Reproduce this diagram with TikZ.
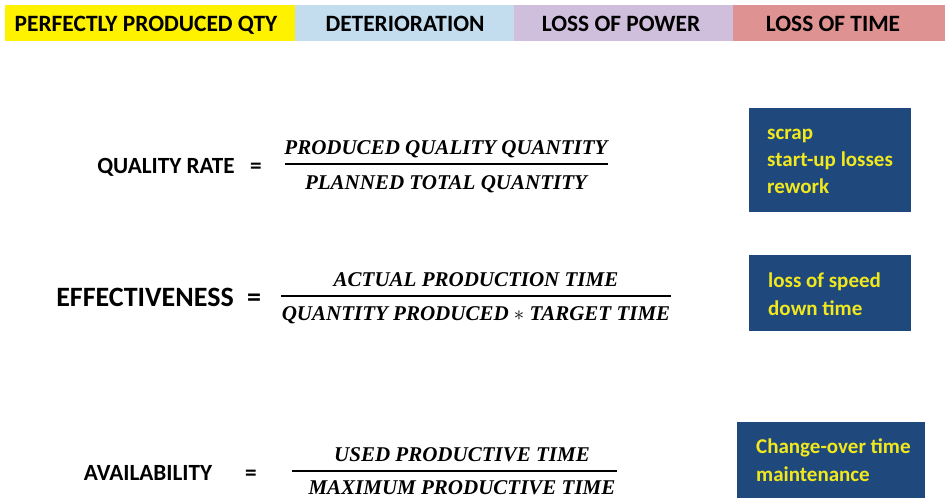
\documentclass[tikz,border=0pt]{standalone}
\usepackage{fontspec}
\setmainfont{Carlito}
\newfontfamily\fracfont{Liberation Serif}
\definecolor{barY}{HTML}{FFF200}
\definecolor{barB}{HTML}{C3DDEF}
\definecolor{barP}{HTML}{CFBEDC}
\definecolor{barR}{HTML}{DE9392}
\definecolor{boxblue}{HTML}{1F497D}
\definecolor{boxtext}{HTML}{F2E81E}
\tikzset{
  bartext/.style={font=\fontsize{23.4}{26}\selectfont\bfseries, text=black, inner sep=0pt, anchor=base},
  lhs/.style={font=\fontsize{23.2}{26}\selectfont\bfseries, inner sep=0pt, anchor=base},
  lhsbig/.style={font=\fontsize{28}{30}\selectfont\bfseries, inner sep=0pt, anchor=base},
  fr/.style={font=\fracfont\fontsize{21}{23}\selectfont\bfseries\itshape, inner sep=0pt, anchor=base},
  lossbox/.style={fill=boxblue, draw=none},
  losstext/.style={font=\fontsize{21}{25}\selectfont\bfseries, text=boxtext, anchor=base west, inner sep=0pt},
  fracbar/.style={line width=1.6pt}
}
\begin{document}
\begin{tikzpicture}[x=1pt,y=-1pt]
\useasboundingbox (0,0) rectangle (945,498);
% top bar
\fill[barY] (5,5) rectangle (295,41);
\fill[barB] (295,5) rectangle (514,41);
\fill[barP] (514,5) rectangle (733,41);
\fill[barR] (733,5) rectangle (945,41);
\node[bartext] (t1) at (146,31.5) {PERFECTLY PRODUCED QTY};
\node[bartext] (t2) at (405,31.5) {DETERIORATION};
\node[bartext] (t3) at (621,31.5) {LOSS OF POWER};
\node[bartext] (t4) at (833,31.5) {LOSS OF TIME};
% quality rate
\node[lhs] (q) at (166,173) {QUALITY RATE};
\node[lhs] (qe) at (256,173) {=};
\node[fr] (qn) at (446,154) {PRODUCED QUALITY QUANTITY};
\node[fr] (qd) at (446,189) {PLANNED TOTAL QUANTITY};
\draw[fracbar] (285,164) -- (608,164);
% effectiveness
\node[lhsbig] (e) at (145,306) {EFFECTIVENESS};
\node[lhsbig] (ee) at (254,306) {=};
\node[fr] (en) at (476,286) {ACTUAL PRODUCTION TIME};
\node[fr] (ed) at (476,320) {QUANTITY PRODUCED $*$ TARGET TIME};
\draw[fracbar] (281,296) -- (671,296);
% availability
\node[lhs] (a) at (148,480) {AVAILABILITY};
\node[lhs] (ae) at (251,480) {=};
\node[fr] (an) at (462,461) {USED PRODUCTIVE TIME};
\node[fr] (ad) at (462,494) {MAXIMUM PRODUCTIVE TIME};
\draw[fracbar] (292,471) -- (617,471);
% boxes
\fill[lossbox] (749,108) rectangle (911,212);
\node[losstext] (b1a) at (767,139) {scrap};
\node[losstext] (b1b) at (767,166) {start-up losses};
\node[losstext] (b1c) at (767,193) {rework};
\fill[lossbox] (749,255) rectangle (911,331);
\node[losstext] (b2a) at (768,287) {loss of speed};
\node[losstext] (b2b) at (768,315) {down time};
\fill[lossbox] (737,422) rectangle (925,498);
\node[losstext] (b3a) at (756,453) {Change-over time};
\node[losstext] (b3b) at (756,481) {maintenance};
\end{tikzpicture}
\end{document}
